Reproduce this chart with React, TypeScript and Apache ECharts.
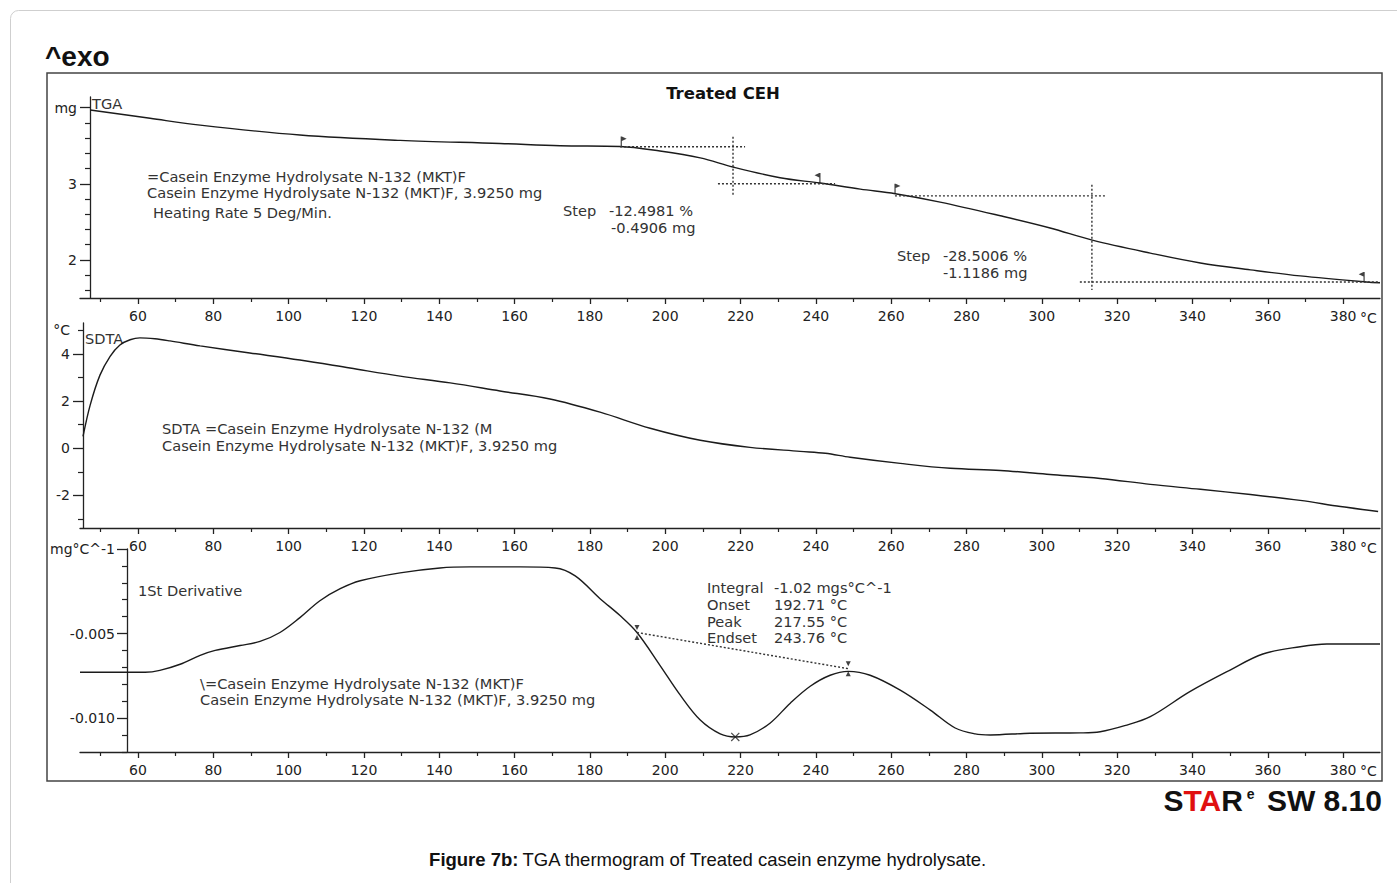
import React, { useEffect, useRef } from "react";
import * as echarts from "echarts";

// ---------- data ----------
const X_MIN = 44.6;
const X_MAX = 389.8;
const majorTemps = [60, 80, 100, 120, 140, 160, 180, 200, 220, 240, 260, 280, 300, 320, 340, 360, 380];
const minorTemps = [50, 70, 90, 110, 130, 150, 170, 190, 210, 230, 250, 270, 290, 310, 330, 350, 370];

// TGA (mg)
const tgaTemp = [47.3, 63.2, 76.5, 103.0, 129.6, 156.1, 172.1, 188.0, 198.6, 209.3, 218.0, 230.5, 241.1, 251.8, 261.1, 273.0, 289.0, 302.2, 313.4, 328.8, 342.1, 355.4, 368.6, 386.2, 389.8];
const tgaMass = [3.97, 3.86, 3.77, 3.64, 3.57, 3.53, 3.50, 3.49, 3.43, 3.34, 3.22, 3.08, 3.01, 2.93, 2.87, 2.76, 2.58, 2.42, 2.26, 2.09, 1.96, 1.87, 1.79, 1.71, 1.70];
const tgaMajorTicks = [2, 3, 4];
const tgaMinorTicks = [1.6, 1.8, 2.2, 2.4, 2.6, 2.8, 3.2, 3.4, 3.6, 3.8];
const tgaLabelValues = [2, 3, 4];

// TGA step evaluation guide lines: [T1, m1, T2, m2]
const tgaGuides = [
  [188.0, 3.487, 221.2, 3.487],
  [214.0, 3.0, 245.1, 3.0],
  [218.0, 3.618, 218.0, 2.842],
  [261.0, 2.842, 316.8, 2.842],
  [313.3, 2.987, 313.3, 1.605],
  [310.1, 1.711, 389.8, 1.711],
];
// flags: [T, mass, direction(1 right, -1 left)]
const tgaFlags = [
  [188.3, 3.49, 1],
  [241.1, 3.01, -1],
  [261.0, 2.87, 1],
  [385.6, 1.71, -1],
];

// SDTA (°C)
const sdtaTemp = [45.4, 47.3, 49.9, 52.6, 55.2, 57.9, 60.5, 64.5, 68.5, 76.5, 89.7, 103.0, 116.3, 129.6, 142.9, 156.1, 169.4, 182.7, 196.0, 209.3, 222.5, 235.8, 242.5, 249.1, 262.4, 275.7, 289.0, 302.2, 315.5, 328.8, 342.1, 355.4, 368.6, 379.3, 389.3];
const sdtaValue = [0.5, 1.83, 3.1, 3.9, 4.38, 4.6, 4.68, 4.64, 4.55, 4.34, 4.04, 3.74, 3.40, 3.06, 2.77, 2.43, 2.09, 1.53, 0.85, 0.34, 0.04, -0.13, -0.21, -0.38, -0.64, -0.85, -0.94, -1.11, -1.28, -1.53, -1.74, -1.96, -2.21, -2.47, -2.68];
const sdtaMajorTicks = [-2, 0, 2, 4];
const sdtaMinorTicks = [-3, -1, 1, 3, 5];
const sdtaLabelValues = [-2, 0, 2, 4, 5];

// 1st derivative (mg/°C)
const derTemp = [44.6, 61.9, 65.8, 71.2, 76.5, 80.5, 87.1, 92.4, 97.7, 103.0, 108.3, 113.7, 119.0, 129.6, 140.2, 148.2, 161.5, 170.8, 176.1, 182.7, 188.0, 192.5, 198.6, 204.0, 209.3, 214.6, 218.6, 222.5, 227.9, 233.2, 238.5, 243.8, 248.6, 254.4, 262.4, 270.4, 277.0, 282.3, 286.3, 296.9, 310.2, 315.5, 322.0, 328.8, 339.3, 350.0, 358.7, 368.6, 375.7, 389.8];
const derValue = [-0.00729, -0.00729, -0.00718, -0.00682, -0.00629, -0.0060, -0.00571, -0.00547, -0.00494, -0.00406, -0.00306, -0.00235, -0.00188, -0.00141, -0.00112, -0.00106, -0.00106, -0.00112, -0.00159, -0.00294, -0.00394, -0.00494, -0.00688, -0.00865, -0.01012, -0.01094, -0.01112, -0.01100, -0.01029, -0.00912, -0.00812, -0.00747, -0.00724, -0.00747, -0.00835, -0.00953, -0.01059, -0.01094, -0.01100, -0.01090, -0.01088, -0.01081, -0.01045, -0.00992, -0.00844, -0.00716, -0.00621, -0.00578, -0.00562, -0.00562];
const derMajorTicks = [0, -0.005, -0.01];
const derMinorTicks = [-0.001, -0.002, -0.003, -0.004, -0.006, -0.007, -0.008, -0.009, -0.011, -0.012];
const derLabelValues = [0, -0.005, -0.01];
const derBaseline = [[192.5, -0.00494], [248.6, -0.00708]];
const derPeak = [218.6, -0.01112];

// ---------- styling helpers ----------
const FONT = "DejaVu Sans";
const INK = "#222";
const TXT = "#333";

function xAxesFor(gridIndex: number) {
  const base = {
    gridIndex,
    type: "value",
    min: X_MIN,
    max: X_MAX,
    position: "bottom",
    splitLine: { show: false },
  };
  return [
    {
      ...base,
      axisLine: { show: true, onZero: false, lineStyle: { color: INK, width: 1.3 } },
      axisTick: { show: true, customValues: majorTemps, length: 6, lineStyle: { color: INK, width: 1.3 } },
      axisLabel: {
        show: true,
        customValues: majorTemps,
        margin: 11,
        color: INK,
        fontFamily: FONT,
        fontSize: 14,
      },
    },
    {
      ...base,
      axisLine: { show: false, onZero: false },
      axisTick: { show: true, customValues: minorTemps, length: 4, lineStyle: { color: INK, width: 1.2 } },
      axisLabel: { show: false },
    },
  ];
}

function yAxesFor(
  gridIndex: number,
  min: number,
  max: number,
  offset: number,
  major: number[],
  minor: number[],
  labels: number[],
  fmt: (v: number) => string,
  margin: number
) {
  const base = {
    gridIndex,
    type: "value",
    min,
    max,
    position: "left",
    offset,
    splitLine: { show: false },
  };
  return [
    {
      ...base,
      axisLine: { show: true, onZero: false, lineStyle: { color: INK, width: 1.3 } },
      axisTick: { show: true, customValues: major, length: 10, lineStyle: { color: INK, width: 1.3 } },
      axisLabel: {
        show: true,
        customValues: labels,
        formatter: fmt,
        margin,
        color: INK,
        fontFamily: FONT,
        fontSize: 14,
      },
    },
    {
      ...base,
      axisLine: { show: false, onZero: false },
      axisTick: { show: true, customValues: minor, length: 5, lineStyle: { color: INK, width: 1.2 } },
      axisLabel: { show: false },
    },
  ];
}

const near = (a: number, b: number) => Math.abs(a - b) < 1e-9;

function txt(x: number, y: number, text: string, extra: any = {}) {
  return {
    type: "text",
    x,
    y,
    silent: true,
    style: {
      text,
      fill: TXT,
      fontFamily: FONT,
      fontSize: 14.6,
      align: "left",
      verticalAlign: "middle",
      ...extra,
    },
  };
}

const FLAG_RIGHT = "path://M0,0 L1.2,0 L1.2,10 L0,10 Z M1.2,0 L6,2.2 L1.2,4.4 Z";
const FLAG_LEFT = "path://M6,0 L4.8,0 L4.8,10 L6,10 Z M4.8,0 L0,2.2 L4.8,4.4 Z";
const CROSS = "path://M0,1 L1,0 L5,4 L9,0 L10,1 L6,5 L10,9 L9,10 L5,6 L1,10 L0,9 L4,5 Z";

export default function App() {
  const ref = useRef<HTMLDivElement>(null);

  useEffect(() => {
    document.body.style.margin = "0";
    document.body.style.overflow = "hidden";
    if (!ref.current) return;
    const chart = echarts.init(ref.current, null, { renderer: "svg" });

    const lineSeries = (xi: number, yi: number, data: number[][], extra: any = {}) => ({
      type: "line",
      xAxisIndex: xi,
      yAxisIndex: yi,
      data,
      showSymbol: false,
      symbol: "none",
      smooth: 0.35,
      clip: false,
      silent: true,
      lineStyle: { color: "#1b1b1b", width: 1.4 },
      ...extra,
    });

    const tgaData = tgaTemp.map((t, i) => [t, tgaMass[i]]);
    const sdtaData = sdtaTemp.map((t, i) => [t, sdtaValue[i]]);
    const derData = derTemp.map((t, i) => [t, derValue[i]]);

    const guideSeries = tgaGuides.map((g) =>
      lineSeries(0, 0, [[g[0], g[1]], [g[2], g[3]]], {
        smooth: false,
        lineStyle: { color: "#333", width: 1.4, type: [2, 2] },
      })
    );

    const option: any = {
      animation: false,
      backgroundColor: "#ffffff",
      grid: [
        { left: 80, right: 17, top: 97, height: 201, outerBoundsMode: "none", containLabel: false },
        { left: 80, right: 17, top: 323, height: 205, outerBoundsMode: "none", containLabel: false },
        { left: 80, right: 17, top: 549, height: 203, outerBoundsMode: "none", containLabel: false },
      ],
      xAxis: [...xAxesFor(0), ...xAxesFor(1), ...xAxesFor(2)],
      yAxis: [
        ...yAxesFor(0, 1.5, 4.14, -10, tgaMajorTicks, tgaMinorTicks, tgaLabelValues,
          (v: number) => (near(v, 4) ? "mg" : String(Math.round(v))), 13),
        ...yAxesFor(1, -3.38, 5.31, -3, sdtaMajorTicks, sdtaMinorTicks, sdtaLabelValues,
          (v: number) => (near(v, 5) ? "°C" : String(Math.round(v))), 13),
        ...yAxesFor(2, -0.01201, 0.0, -47, derMajorTicks, derMinorTicks, derLabelValues,
          (v: number) => (near(v, 0) ? "mg°C^-1" : v.toFixed(3)), 12),
      ],
      series: [
        lineSeries(0, 0, tgaData),
        ...guideSeries,
        {
          type: "scatter",
          xAxisIndex: 0,
          yAxisIndex: 0,
          silent: true,
          data: tgaFlags.map((f) => ({
            value: [f[0], f[1]],
            symbol: f[2] > 0 ? FLAG_RIGHT : FLAG_LEFT,
            symbolOffset: [f[2] > 0 ? 2.5 : -2.5, -5],
          })),
          symbolSize: [6, 10],
          itemStyle: { color: "#111" },
        },
        lineSeries(2, 2, sdtaData),
        lineSeries(4, 4, derData),
        lineSeries(4, 4, derBaseline, {
          smooth: false,
          lineStyle: { color: "#333", width: 1.4, type: [2, 2] },
        }),
        {
          type: "scatter",
          xAxisIndex: 4,
          yAxisIndex: 4,
          silent: true,
          symbol: "triangle",
          symbolSize: 5,
          itemStyle: { color: "#111" },
          data: [
            { value: derBaseline[0], symbolRotate: 180, symbolOffset: [0, -5] },
            { value: derBaseline[0], symbolOffset: [0, 5] },
            { value: derBaseline[1], symbolRotate: 180, symbolOffset: [0, -5] },
            { value: derBaseline[1], symbolOffset: [0, 5] },
          ],
        },
        {
          type: "scatter",
          xAxisIndex: 4,
          yAxisIndex: 4,
          silent: true,
          symbol: CROSS,
          symbolSize: 9,
          itemStyle: { color: "#222" },
          data: [derPeak],
        },
      ],
      graphic: [
        {
          type: "rect",
          z: -10,
          silent: true,
          shape: { x: 10.5, y: 10.5, width: 1420, height: 900, r: 8 },
          style: { fill: "none", stroke: "#cfcfcf", lineWidth: 1 },
        },
        {
          type: "rect",
          z: -5,
          silent: true,
          shape: { x: 47, y: 73, width: 1335, height: 708 },
          style: { fill: "none", stroke: "#444", lineWidth: 1.5 },
        },
        txt(45, 56, "^exo", { fontFamily: "Liberation Sans", fontSize: 28, fontWeight: "bold", fill: "#111" }),
        txt(723, 93, "Treated CEH", { fontFamily: FONT, fontSize: 16.5, fontWeight: "bold", fill: "#111", align: "center" }),
        // TGA panel
        txt(92, 103, "TGA"),
        txt(147, 176, "=Casein Enzyme Hydrolysate N-132 (MKT)F"),
        txt(147, 192, "Casein Enzyme Hydrolysate N-132 (MKT)F, 3.9250 mg"),
        txt(153, 212, "Heating Rate 5 Deg/Min."),
        txt(563, 210, "Step"),
        txt(609, 210, "-12.4981 %"),
        txt(611, 227, "-0.4906 mg"),
        txt(897, 255, "Step"),
        txt(943, 255, "-28.5006 %"),
        txt(943, 272, "-1.1186 mg"),
        txt(1360, 318, "°C", { fill: INK, fontSize: 14 }),
        // SDTA panel
        txt(85, 338, "SDTA"),
        txt(162, 428, "SDTA =Casein Enzyme Hydrolysate N-132 (M"),
        txt(162, 445, "Casein Enzyme Hydrolysate N-132 (MKT)F, 3.9250 mg"),
        txt(1360, 548, "°C", { fill: INK, fontSize: 14 }),
        // derivative panel
        txt(138, 590, "1St Derivative"),
        txt(707, 587, "Integral"),
        txt(774, 587, "-1.02 mgs°C^-1"),
        txt(707, 604, "Onset"),
        txt(774, 604, "192.71 °C"),
        txt(707, 621, "Peak"),
        txt(774, 621, "217.55 °C"),
        txt(707, 637, "Endset"),
        txt(774, 637, "243.76 °C"),
        txt(200, 683, "\\=Casein Enzyme Hydrolysate N-132 (MKT)F"),
        txt(200, 699, "Casein Enzyme Hydrolysate N-132 (MKT)F, 3.9250 mg"),
        txt(1360, 771, "°C", { fill: INK, fontSize: 14 }),
        // STARe logo
        {
          type: "text",
          x: 1382,
          y: 800,
          silent: true,
          style: {
            text: "{a|S}{r|TA}{a|R}{s|e}{a| SW 8.10}",
            align: "right",
            verticalAlign: "middle",
            rich: {
              a: { fontFamily: "Liberation Sans", fontSize: 30, fontWeight: "bold", fill: "#111", lineHeight: 30 },
              r: { fontFamily: "Liberation Sans", fontSize: 30, fontWeight: "bold", fill: "#e01010", lineHeight: 30 },
              s: { fontFamily: "Liberation Sans", fontSize: 14, fontWeight: "bold", fill: "#111", lineHeight: 30, verticalAlign: "top", padding: [2, 4, 10, 4] },
            },
          },
        },
        // caption
        {
          type: "text",
          x: 708,
          y: 859,
          silent: true,
          style: {
            text: "{b|Figure 7b:} {r|TGA thermogram of Treated casein enzyme hydrolysate.}",
            align: "center",
            verticalAlign: "middle",
            rich: {
              b: { fontFamily: "Liberation Sans", fontSize: 18.5, fontWeight: "bold", fill: "#111" },
              r: { fontFamily: "Liberation Sans", fontSize: 18.5, fill: "#111" },
            },
          },
        },
      ],
    };

    chart.setOption(option);
    return () => chart.dispose();
  }, []);

  return <div ref={ref} style={{ width: 1397, height: 883 }} />;
}
